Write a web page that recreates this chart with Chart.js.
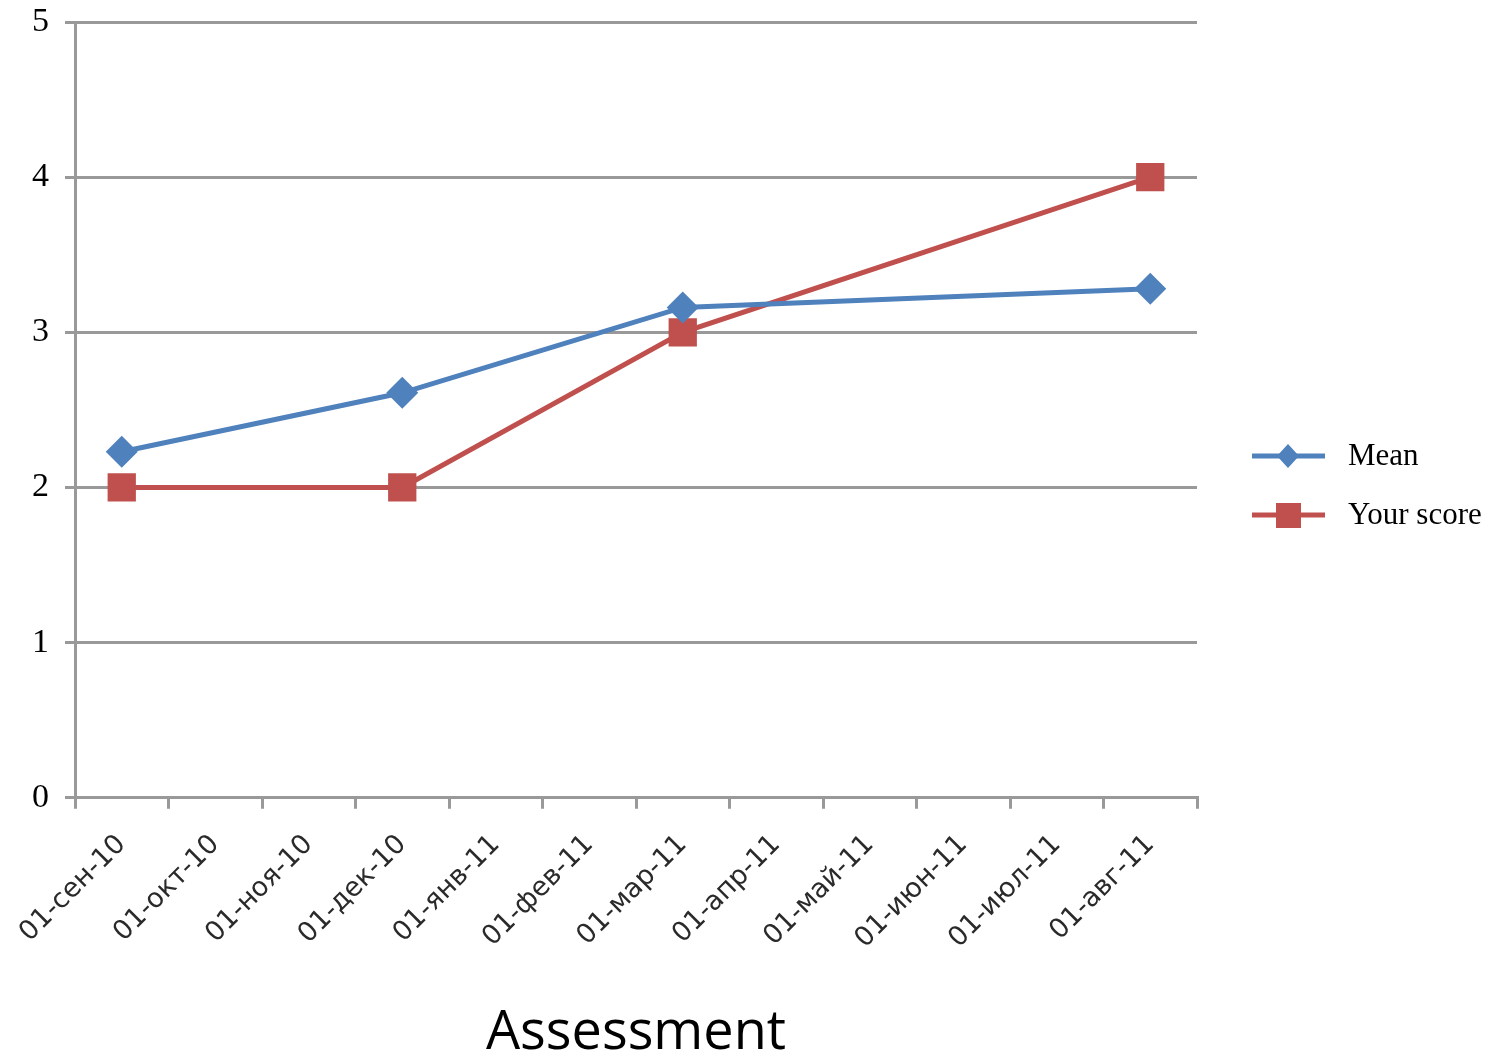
<!DOCTYPE html>
<html>
<head>
<meta charset="utf-8">
<script src="https://cdn.jsdelivr.net/npm/chart.js@4"></script>
<style>
  html, body { margin: 0; padding: 0; background: #fff; }
  #wrap { width: 1494px; height: 1061px; }
</style>
</head>
<body>
<div id="wrap"><canvas id="myChart"></canvas></div>
<script>
// months on the x axis
var months = ['01-сен-10', '01-окт-10', '01-ноя-10', '01-дек-10', '01-янв-11', '01-фев-11',
              '01-мар-11', '01-апр-11', '01-май-11', '01-июн-11', '01-июл-11', '01-авг-11'];
// null = no assessment that month
var meanScores = [2.23, null, null, 2.61, null, null, 3.16, null, null, null, null, 3.28];
var yourScores = [2, null, null, 2, null, null, 3, null, null, null, null, 4];
var yTicks = [0, 1, 2, 3, 4, 5];

var blue = '#4f81bd';
var red = '#c0504d';
var gridGray = '#999999';

// legend drawn at the right, Excel style (line with marker)
var sideLegend = {
    id: 'sideLegend',
    afterDraw: function (chart) {
        var ctx = chart.ctx;
        var ds = chart.data.datasets;
        var rows = [456, 515];
        ctx.save();
        for (var i = 0; i < ds.length; i++) {
            var y = rows[i];
            ctx.strokeStyle = ds[i].borderColor;
            ctx.lineWidth = 5;
            ctx.beginPath();
            ctx.moveTo(1252, y);
            ctx.lineTo(1325, y);
            ctx.stroke();
            ctx.fillStyle = ds[i].borderColor;
            if (ds[i].pointStyle === 'rect') {
                ctx.fillRect(1276, y - 12, 25, 25);
            } else {
                ctx.beginPath();
                ctx.moveTo(1288, y - 12);
                ctx.lineTo(1299, y);
                ctx.lineTo(1288, y + 12);
                ctx.lineTo(1277, y);
                ctx.closePath();
                ctx.fill();
            }
            ctx.fillStyle = '#000';
            ctx.font = '31px "Liberation Serif", "Times New Roman", serif';
            ctx.textBaseline = 'middle';
            ctx.textAlign = 'left';
            ctx.fillText(ds[i].label, 1348, y + 1);
        }
        ctx.restore();
    }
};

const ctx = document.getElementById('myChart');
const myChart = new Chart(ctx, {
    type: 'line',
    data: {
        labels: months,
        datasets: [{
            label: 'Mean',
            data: meanScores,
            borderColor: blue,
            backgroundColor: blue,
            borderWidth: 5,
            pointStyle: 'rectRot',
            pointRadius: 16,
            pointBorderWidth: 0,
            spanGaps: true,
            tension: 0
        }, {
            label: 'Your score',
            data: yourScores,
            borderColor: red,
            backgroundColor: red,
            borderWidth: 5,
            pointStyle: 'rect',
            pointRadius: 20,
            pointBorderWidth: 0,
            spanGaps: true,
            tension: 0
        }]
    },
    options: {
        responsive: true,
        maintainAspectRatio: false,
        animation: false,
        devicePixelRatio: 1,
        layout: {
            padding: { left: 0, right: 297, top: 22, bottom: 0 }
        },
        plugins: {
            legend: { display: false },
            tooltip: { enabled: false }
        },
        scales: {
            x: {
                offset: true,
                grid: {
                    offset: true,
                    drawOnChartArea: false,
                    drawTicks: true,
                    tickLength: 11,
                    color: gridGray,
                    lineWidth: 3
                },
                border: { display: true, color: gridGray, width: 3 },
                ticks: {
                    minRotation: 45,
                    maxRotation: 45,
                    autoSkip: false,
                    padding: 20,
                    color: '#2a2a2a',
                    font: { family: '"DejaVu Sans", Verdana, sans-serif', size: 27 }
                },
                title: {
                    display: true,
                    text: 'Assessment',
                    color: '#000',
                    padding: { top: 32, bottom: 0 },
                    font: { family: '"Open Sans", Calibri, sans-serif', size: 54, lineHeight: 1.0 }
                }
            },
            y: {
                min: 0,
                max: 5,
                afterBuildTicks: function (scale) {
                    scale.ticks = yTicks.map(function (v) { return { value: v }; });
                },
                afterFit: function (scale) {
                    scale.width = 75;
                    scale.paddingTop = 0;
                    scale.paddingBottom = 0;
                },
                grid: {
                    drawTicks: true,
                    tickLength: 10,
                    color: gridGray,
                    lineWidth: 3
                },
                border: { display: true, color: gridGray, width: 3 },
                ticks: {
                    padding: 16,
                    color: '#000',
                    font: { family: '"Liberation Serif", "Times New Roman", serif', size: 34 }
                }
            }
        }
    },
    plugins: [sideLegend]
});
</script>
</body>
</html>
